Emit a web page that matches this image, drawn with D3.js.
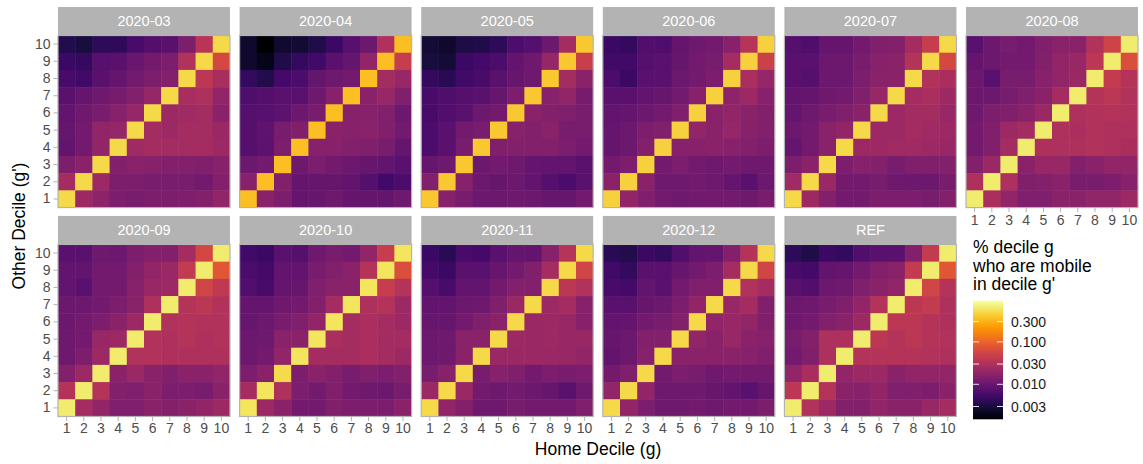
<!DOCTYPE html>
<html>
<head>
<meta charset="utf-8">
<script src="https://d3js.org/d3.v7.min.js"></script>
<style>
body { margin: 0; background: #fff; }
text { font-family: "Liberation Sans", Arial, sans-serif; }
</style>
</head>
<body>
<div id="chart"></div>
<script>
var width = 1143;
var height = 464;

var panelNames = ["2020-03", "2020-04", "2020-05", "2020-06", "2020-07", "2020-08",
                  "2020-09", "2020-10", "2020-11", "2020-12", "REF"];
var deciles = [1, 2, 3, 4, 5, 6, 7, 8, 9, 10];
var legendTicks = [0.003, 0.01, 0.03, 0.1, 0.3];

// share of home decile g (columns 1..10) mobile in decile g'
// rows are listed top to bottom: g' = 10, 9, ..., 1
var v2020_03 = [
  [0.0035, 0.003, 0.004, 0.0042, 0.006, 0.0072, 0.008, 0.014, 0.036, 0.5],
  [0.0048, 0.0046, 0.0075, 0.008, 0.010, 0.012, 0.014, 0.032, 0.5, 0.06],
  [0.006, 0.0055, 0.008, 0.0095, 0.012, 0.014, 0.015, 0.5, 0.038, 0.027],
  [0.008, 0.0095, 0.011, 0.0125, 0.015, 0.02, 0.5, 0.027, 0.03, 0.019],
  [0.009, 0.011, 0.013, 0.016, 0.02, 0.5, 0.023, 0.024, 0.025, 0.017],
  [0.0098, 0.012, 0.019, 0.02, 0.5, 0.025, 0.023, 0.026, 0.025, 0.022],
  [0.009, 0.012, 0.019, 0.5, 0.024, 0.025, 0.025, 0.025, 0.026, 0.023],
  [0.014, 0.017, 0.5, 0.015, 0.017, 0.016, 0.015, 0.015, 0.0145, 0.016],
  [0.026, 0.5, 0.023, 0.014, 0.014, 0.013, 0.013, 0.0128, 0.012, 0.0155],
  [0.5, 0.023, 0.018, 0.0135, 0.013, 0.014, 0.0138, 0.0143, 0.0148, 0.019]
];
var v2020_04 = [
  [0.0025, 0.0015, 0.0026, 0.0027, 0.0033, 0.005, 0.0075, 0.0105, 0.031, 0.35],
  [0.0025, 0.002, 0.0033, 0.0045, 0.0055, 0.008, 0.0093, 0.019, 0.35, 0.045],
  [0.0045, 0.0035, 0.0057, 0.0063, 0.0093, 0.011, 0.012, 0.35, 0.025, 0.021],
  [0.0067, 0.0072, 0.008, 0.008, 0.011, 0.016, 0.35, 0.017, 0.021, 0.0145],
  [0.0073, 0.0075, 0.0082, 0.0105, 0.013, 0.35, 0.016, 0.016, 0.015, 0.0105],
  [0.0073, 0.0085, 0.013, 0.0145, 0.35, 0.017, 0.016, 0.017, 0.0145, 0.012],
  [0.0073, 0.0082, 0.0138, 0.35, 0.016, 0.016, 0.015, 0.0145, 0.013, 0.0095],
  [0.0105, 0.012, 0.35, 0.011, 0.0135, 0.0115, 0.0105, 0.0098, 0.009, 0.0078],
  [0.016, 0.35, 0.015, 0.0095, 0.0098, 0.0098, 0.009, 0.0073, 0.0054, 0.0063],
  [0.35, 0.017, 0.0138, 0.0095, 0.0098, 0.011, 0.0095, 0.0095, 0.0095, 0.011]
];
var v2020_05 = [
  [0.0028, 0.0025, 0.0032, 0.0034, 0.004, 0.0065, 0.0073, 0.0105, 0.026, 0.4],
  [0.003, 0.0028, 0.0048, 0.0057, 0.0063, 0.009, 0.011, 0.02, 0.4, 0.047],
  [0.0045, 0.0038, 0.0055, 0.006, 0.008, 0.0098, 0.011, 0.4, 0.025, 0.017],
  [0.006, 0.0067, 0.0073, 0.008, 0.0098, 0.0135, 0.4, 0.016, 0.019, 0.0125],
  [0.006, 0.007, 0.008, 0.0105, 0.012, 0.4, 0.017, 0.015, 0.0145, 0.013],
  [0.0063, 0.0077, 0.012, 0.013, 0.4, 0.016, 0.015, 0.017, 0.013, 0.013],
  [0.0063, 0.0077, 0.013, 0.4, 0.0145, 0.015, 0.015, 0.015, 0.0135, 0.012],
  [0.0098, 0.011, 0.4, 0.0105, 0.012, 0.011, 0.0095, 0.009, 0.009, 0.008],
  [0.015, 0.4, 0.016, 0.0105, 0.0098, 0.0105, 0.009, 0.0073, 0.0063, 0.008],
  [0.4, 0.016, 0.013, 0.0105, 0.0105, 0.011, 0.0105, 0.0098, 0.0098, 0.012]
];
var v2020_06 = [
  [0.005, 0.0045, 0.007, 0.0067, 0.0095, 0.011, 0.012, 0.016, 0.034, 0.45],
  [0.0055, 0.0054, 0.0073, 0.0077, 0.0098, 0.012, 0.013, 0.026, 0.45, 0.05],
  [0.0063, 0.005, 0.0077, 0.008, 0.0105, 0.012, 0.0135, 0.45, 0.029, 0.02],
  [0.0077, 0.008, 0.009, 0.0098, 0.012, 0.016, 0.45, 0.018, 0.023, 0.016],
  [0.009, 0.0095, 0.0105, 0.012, 0.0145, 0.45, 0.017, 0.019, 0.017, 0.015],
  [0.0095, 0.0105, 0.0135, 0.0145, 0.45, 0.019, 0.017, 0.02, 0.016, 0.015],
  [0.0095, 0.0105, 0.015, 0.45, 0.016, 0.016, 0.017, 0.016, 0.015, 0.0135],
  [0.012, 0.0135, 0.45, 0.012, 0.0135, 0.012, 0.011, 0.012, 0.011, 0.011],
  [0.017, 0.45, 0.017, 0.011, 0.011, 0.012, 0.011, 0.0095, 0.008, 0.0105],
  [0.45, 0.019, 0.0145, 0.012, 0.011, 0.012, 0.012, 0.012, 0.011, 0.013]
];
var v2020_07 = [
  [0.0073, 0.0067, 0.0095, 0.0095, 0.012, 0.0145, 0.015, 0.026, 0.045, 0.5],
  [0.0077, 0.0077, 0.0105, 0.0105, 0.013, 0.016, 0.017, 0.033, 0.5, 0.06],
  [0.008, 0.0073, 0.0105, 0.0105, 0.0135, 0.017, 0.017, 0.5, 0.032, 0.028],
  [0.009, 0.0095, 0.011, 0.012, 0.0145, 0.021, 0.5, 0.026, 0.029, 0.023],
  [0.0095, 0.011, 0.013, 0.0145, 0.017, 0.5, 0.023, 0.025, 0.025, 0.021],
  [0.0105, 0.012, 0.017, 0.019, 0.5, 0.023, 0.023, 0.026, 0.024, 0.023],
  [0.0095, 0.012, 0.017, 0.5, 0.023, 0.023, 0.024, 0.024, 0.023, 0.021],
  [0.0135, 0.017, 0.5, 0.0135, 0.016, 0.015, 0.013, 0.0145, 0.0145, 0.015],
  [0.024, 0.5, 0.022, 0.012, 0.012, 0.013, 0.011, 0.0105, 0.0105, 0.013],
  [0.5, 0.023, 0.015, 0.012, 0.012, 0.0135, 0.0135, 0.0135, 0.013, 0.015]
];
var v2020_08 = [
  [0.008, 0.0105, 0.013, 0.012, 0.0145, 0.017, 0.017, 0.032, 0.052, 0.65],
  [0.0095, 0.0105, 0.012, 0.012, 0.015, 0.019, 0.021, 0.038, 0.65, 0.068],
  [0.0105, 0.008, 0.013, 0.013, 0.016, 0.019, 0.022, 0.65, 0.043, 0.033],
  [0.0105, 0.0105, 0.013, 0.0145, 0.017, 0.026, 0.65, 0.033, 0.038, 0.032],
  [0.011, 0.0135, 0.0145, 0.017, 0.022, 0.65, 0.03, 0.032, 0.033, 0.032],
  [0.012, 0.0145, 0.023, 0.025, 0.65, 0.03, 0.029, 0.032, 0.03, 0.03],
  [0.012, 0.0145, 0.026, 0.65, 0.03, 0.03, 0.03, 0.032, 0.03, 0.028],
  [0.015, 0.022, 0.65, 0.017, 0.021, 0.021, 0.015, 0.017, 0.019, 0.019],
  [0.03, 0.65, 0.03, 0.0145, 0.015, 0.017, 0.013, 0.013, 0.0135, 0.016],
  [0.65, 0.029, 0.019, 0.0145, 0.0145, 0.017, 0.017, 0.019, 0.019, 0.023]
];
var v2020_09 = [
  [0.008, 0.008, 0.011, 0.0105, 0.0135, 0.015, 0.015, 0.026, 0.058, 0.65],
  [0.009, 0.009, 0.012, 0.012, 0.015, 0.019, 0.022, 0.043, 0.65, 0.078],
  [0.009, 0.0077, 0.012, 0.012, 0.016, 0.021, 0.023, 0.65, 0.055, 0.04],
  [0.0105, 0.0105, 0.012, 0.0135, 0.017, 0.03, 0.65, 0.033, 0.038, 0.032],
  [0.0105, 0.012, 0.0135, 0.017, 0.023, 0.65, 0.032, 0.033, 0.032, 0.032],
  [0.011, 0.012, 0.021, 0.023, 0.65, 0.032, 0.03, 0.033, 0.03, 0.032],
  [0.011, 0.0135, 0.023, 0.65, 0.032, 0.032, 0.03, 0.03, 0.03, 0.03],
  [0.015, 0.023, 0.65, 0.017, 0.022, 0.017, 0.0145, 0.017, 0.017, 0.019],
  [0.033, 0.65, 0.033, 0.015, 0.0145, 0.017, 0.0135, 0.0135, 0.013, 0.017],
  [0.65, 0.026, 0.019, 0.0145, 0.0145, 0.017, 0.015, 0.017, 0.019, 0.023]
];
var v2020_10 = [
  [0.0054, 0.005, 0.008, 0.0073, 0.011, 0.013, 0.012, 0.019, 0.045, 0.58],
  [0.0063, 0.0057, 0.009, 0.009, 0.013, 0.015, 0.017, 0.033, 0.58, 0.068],
  [0.007, 0.006, 0.0095, 0.0098, 0.0145, 0.017, 0.017, 0.58, 0.045, 0.033],
  [0.0095, 0.0095, 0.011, 0.012, 0.015, 0.026, 0.58, 0.03, 0.033, 0.023],
  [0.0098, 0.0105, 0.013, 0.0145, 0.019, 0.58, 0.026, 0.029, 0.026, 0.023],
  [0.0105, 0.011, 0.017, 0.017, 0.58, 0.029, 0.026, 0.029, 0.026, 0.026],
  [0.0105, 0.012, 0.019, 0.58, 0.026, 0.026, 0.026, 0.029, 0.026, 0.023],
  [0.0135, 0.017, 0.52, 0.0135, 0.017, 0.015, 0.013, 0.0145, 0.0135, 0.015],
  [0.026, 0.58, 0.03, 0.0135, 0.012, 0.0145, 0.012, 0.011, 0.0105, 0.013],
  [0.58, 0.023, 0.017, 0.012, 0.012, 0.0145, 0.0135, 0.0135, 0.0135, 0.017]
];
var v2020_11 = [
  [0.005, 0.0038, 0.006, 0.0057, 0.0077, 0.0095, 0.009, 0.016, 0.034, 0.5],
  [0.0057, 0.0048, 0.008, 0.0077, 0.0098, 0.012, 0.0145, 0.026, 0.5, 0.055],
  [0.0073, 0.006, 0.009, 0.009, 0.012, 0.015, 0.015, 0.5, 0.038, 0.032],
  [0.009, 0.009, 0.0105, 0.011, 0.0145, 0.022, 0.5, 0.023, 0.026, 0.016],
  [0.0098, 0.0098, 0.012, 0.0145, 0.017, 0.5, 0.022, 0.023, 0.021, 0.016],
  [0.0105, 0.011, 0.017, 0.017, 0.5, 0.023, 0.022, 0.023, 0.021, 0.021],
  [0.0105, 0.011, 0.017, 0.5, 0.022, 0.022, 0.022, 0.022, 0.021, 0.019],
  [0.013, 0.016, 0.5, 0.013, 0.016, 0.0145, 0.012, 0.0135, 0.013, 0.0135],
  [0.022, 0.5, 0.022, 0.012, 0.011, 0.012, 0.0105, 0.0098, 0.008, 0.011],
  [0.5, 0.019, 0.015, 0.011, 0.011, 0.013, 0.012, 0.012, 0.012, 0.0145]
];
var v2020_12 = [
  [0.0038, 0.0035, 0.005, 0.0045, 0.007, 0.009, 0.0095, 0.015, 0.033, 0.5],
  [0.0054, 0.0045, 0.008, 0.0077, 0.0098, 0.012, 0.0135, 0.026, 0.5, 0.055],
  [0.006, 0.0057, 0.009, 0.008, 0.012, 0.0145, 0.0145, 0.5, 0.032, 0.026],
  [0.008, 0.008, 0.0098, 0.0105, 0.0135, 0.019, 0.5, 0.021, 0.026, 0.0145],
  [0.009, 0.0095, 0.012, 0.013, 0.015, 0.5, 0.019, 0.021, 0.019, 0.0145],
  [0.0098, 0.0105, 0.015, 0.015, 0.5, 0.019, 0.017, 0.021, 0.017, 0.016],
  [0.009, 0.0105, 0.016, 0.5, 0.017, 0.017, 0.017, 0.017, 0.016, 0.0145],
  [0.012, 0.0145, 0.5, 0.012, 0.0135, 0.013, 0.011, 0.012, 0.012, 0.012],
  [0.019, 0.5, 0.019, 0.011, 0.011, 0.011, 0.0098, 0.009, 0.0077, 0.0098],
  [0.5, 0.019, 0.0135, 0.011, 0.011, 0.012, 0.011, 0.012, 0.012, 0.0135]
];
var vREF = [
  [0.004, 0.0034, 0.005, 0.0045, 0.007, 0.008, 0.008, 0.015, 0.043, 0.65],
  [0.006, 0.0057, 0.009, 0.0095, 0.012, 0.015, 0.017, 0.043, 0.65, 0.078],
  [0.008, 0.007, 0.0105, 0.011, 0.0145, 0.017, 0.019, 0.65, 0.055, 0.033],
  [0.0105, 0.011, 0.013, 0.0145, 0.019, 0.033, 0.65, 0.038, 0.043, 0.03],
  [0.011, 0.012, 0.015, 0.017, 0.023, 0.65, 0.038, 0.038, 0.033, 0.03],
  [0.013, 0.015, 0.03, 0.03, 0.65, 0.038, 0.033, 0.038, 0.033, 0.032],
  [0.012, 0.0145, 0.03, 0.65, 0.033, 0.033, 0.033, 0.033, 0.032, 0.03],
  [0.019, 0.028, 0.65, 0.019, 0.023, 0.023, 0.017, 0.019, 0.019, 0.019],
  [0.038, 0.65, 0.033, 0.017, 0.016, 0.019, 0.0145, 0.0145, 0.0135, 0.017],
  [0.65, 0.032, 0.023, 0.015, 0.015, 0.019, 0.017, 0.017, 0.021, 0.026]
];

var panelValues = [v2020_03, v2020_04, v2020_05, v2020_06, v2020_07, v2020_08,
                   v2020_09, v2020_10, v2020_11, v2020_12, vREF];

var svg = d3.select("#chart")
  .append("svg")
  .attr("width", width)
  .attr("height", height);

var nCols = 6;
var stripH = 28.5;

var colScale = d3.scaleBand().domain(d3.range(nCols)).range([58, 1138]).paddingInner(0.053);
var rowScale = d3.scaleBand().domain([0, 1]).range([7, 416.5]).paddingInner(0.04);
var panelW = colScale.bandwidth();
var panelH = rowScale.bandwidth() - stripH;

var x = d3.scaleBand().domain(deciles).range([0, panelW]);
var y = d3.scaleBand().domain(deciles.slice().reverse()).range([0, panelH]);

var logT = d3.scaleLog().domain([0.0015, 0.93]).range([0, 1]).clamp(true);
var color = function (v) { return d3.interpolateInferno(logT(v)); };

var grey = "#b3b3b3";

panelNames.forEach(function (name, i) {
  var c = i % nCols, r = Math.floor(i / nCols);
  var px = colScale(c), top = rowScale(r), py = top + stripH;
  var vals = panelValues[i];

  // strip
  svg.append("rect")
    .attr("x", px).attr("y", top)
    .attr("width", panelW).attr("height", stripH)
    .attr("fill", grey);
  svg.append("text")
    .attr("x", px + panelW / 2).attr("y", top + stripH / 2)
    .attr("dy", "0.36em")
    .attr("text-anchor", "middle")
    .attr("fill", "#ffffff")
    .style("font-size", "14.5px")
    .text(name);

  var g = svg.append("g").attr("transform", "translate(" + px + "," + py + ")");

  var cells = [];
  vals.forEach(function (row, ri) {
    row.forEach(function (v, ci) {
      cells.push({ home: deciles[ci], other: deciles[9 - ri], value: v });
    });
  });

  // slight overlap (0.5px) so no seams show between tiles
  g.selectAll("rect.cell")
    .data(cells)
    .enter().append("rect")
    .attr("class", "cell")
    .attr("x", function (d) { return x(d.home); })
    .attr("y", function (d) { return y(d.other); })
    .attr("width", function (d) { return x.bandwidth() + (d.home < 10 ? 0.5 : 0); })
    .attr("height", function (d) { return y.bandwidth() + (d.other > 1 ? 0.5 : 0); })
    .attr("fill", function (d) { return color(d.value); });

  g.append("rect")
    .attr("width", panelW).attr("height", panelH)
    .attr("fill", "none")
    .attr("stroke", grey)
    .attr("stroke-width", 1.2);

  // y axis on first column
  if (c === 0) {
    var ya = g.append("g").call(d3.axisLeft(y).tickSize(4.5).tickPadding(3));
    styleAxis(ya);
  }
  // x axis where nothing sits below
  if (i + nCols >= panelNames.length) {
    var xa = g.append("g").attr("transform", "translate(0," + panelH + ")")
      .call(d3.axisBottom(x).tickSize(4.5).tickPadding(2.5));
    styleAxis(xa);
  }
});

function styleAxis(a) {
  a.select(".domain").remove();
  a.selectAll(".tick line").attr("stroke", grey);
  a.selectAll(".tick text")
    .attr("fill", "#4d4d4d")
    .style("font-size", "14px");
}

// axis titles
svg.append("text")
  .attr("x", (colScale(0) + colScale(5) + panelW) / 2)
  .attr("y", 455)
  .attr("text-anchor", "middle")
  .attr("fill", "#000")
  .style("font-size", "17.5px")
  .text("Home Decile (g)");

svg.append("text")
  .attr("transform", "translate(25," + (rowScale(0) + stripH + rowScale(1) + rowScale.bandwidth()) / 2 + ") rotate(-90)")
  .attr("text-anchor", "middle")
  .attr("fill", "#000")
  .style("font-size", "17.5px")
  .text("Other Decile (g')");

// legend
var legX = 973, legW = 30;
var legY = d3.scaleLog().domain([0.0015, 0.93]).range([419.3, 300.7]);

var titleLines = ["% decile g", "who are mobile", "in decile g'"];
svg.append("g").selectAll("text")
  .data(titleLines)
  .enter().append("text")
  .attr("x", legX)
  .attr("y", function (d, k) { return 253 + k * 18.5; })
  .attr("fill", "#000")
  .style("font-size", "17.5px")
  .text(function (d) { return d; });

var grad = svg.append("defs").append("linearGradient")
  .attr("id", "legGrad")
  .attr("x1", 0).attr("y1", 1).attr("x2", 0).attr("y2", 0);
d3.range(0, 1.0001, 0.05).forEach(function (t) {
  grad.append("stop")
    .attr("offset", t)
    .attr("stop-color", d3.interpolateInferno(t));
});

svg.append("rect")
  .attr("x", legX).attr("y", legY.range()[1])
  .attr("width", legW)
  .attr("height", legY.range()[0] - legY.range()[1])
  .attr("fill", "url(#legGrad)");

var legTicks = svg.append("g").selectAll("g")
  .data(legendTicks)
  .enter().append("g")
  .attr("transform", function (d) { return "translate(0," + legY(d) + ")"; });

legTicks.append("line")
  .attr("x1", legX).attr("x2", legX + 6)
  .attr("stroke", "#fff").attr("stroke-opacity", 0.85);
legTicks.append("line")
  .attr("x1", legX + legW - 6).attr("x2", legX + legW)
  .attr("stroke", "#fff").attr("stroke-opacity", 0.85);
legTicks.append("text")
  .attr("x", legX + legW + 8)
  .attr("dy", "0.36em")
  .attr("fill", "#1a1a1a")
  .style("font-size", "14px")
  .text(function (d) { return d3.format(".3f")(d); });
</script>
</body>
</html>
